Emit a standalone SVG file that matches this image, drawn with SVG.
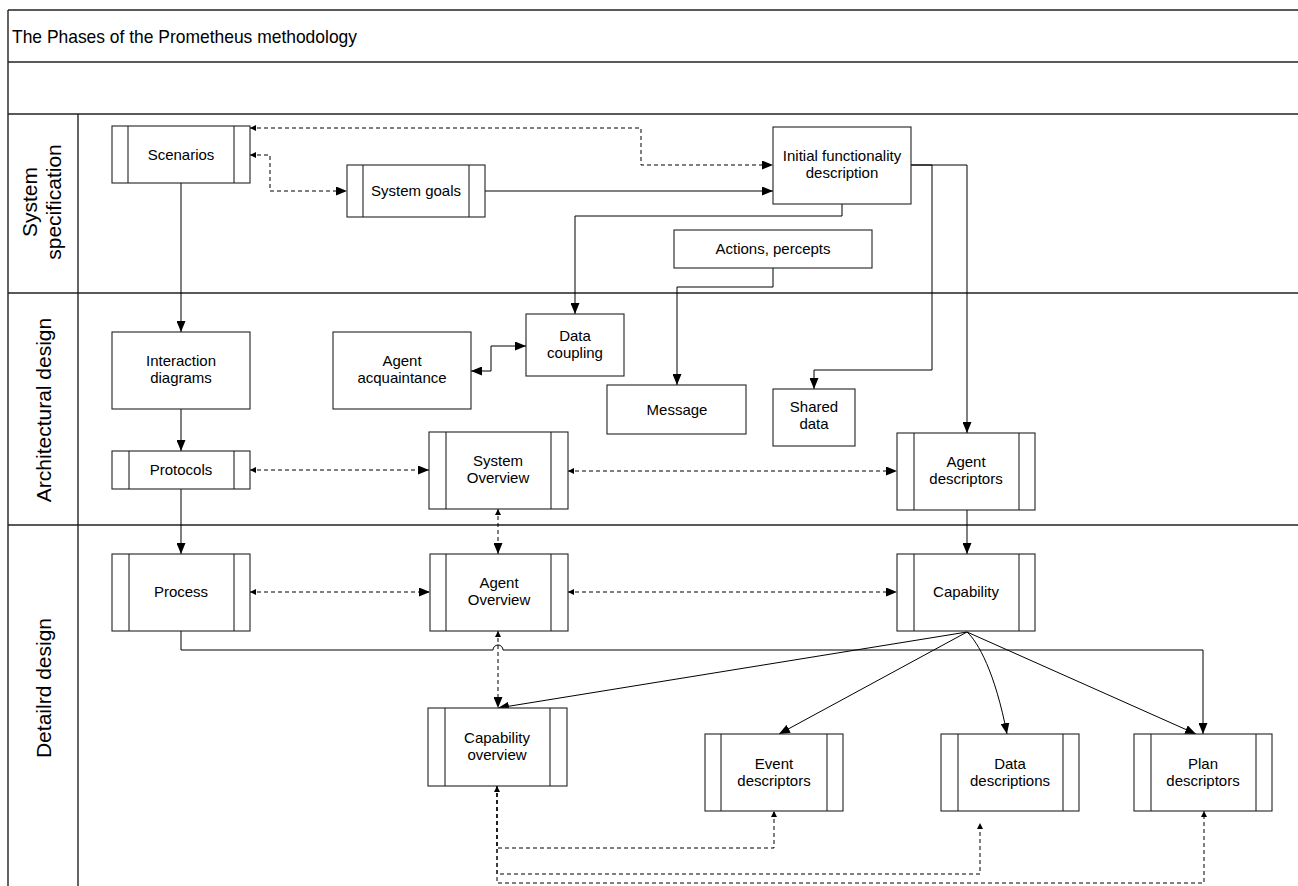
<svg xmlns="http://www.w3.org/2000/svg" width="1298" height="886" viewBox="0 0 1298 886">
<style>
.frame{stroke:#222;stroke-width:1.4;fill:none}
.node rect{fill:#fff;stroke:#222;stroke-width:1.1}
.node line{stroke:#222;stroke-width:1.1}
.node text{font-family:"Liberation Sans",Arial,sans-serif;font-size:15px;fill:#000;text-anchor:middle}
.lane{font-family:"Liberation Sans",Arial,sans-serif;font-size:21px;fill:#000;text-anchor:middle}
.title{font-family:"Liberation Sans",Arial,sans-serif;font-size:19px;fill:#000}
.c{fill:none;stroke:#000;stroke-width:1}
.d{fill:none;stroke:#000;stroke-width:1;stroke-dasharray:4 3}
</style>
<defs>
<marker id="big" viewBox="0 0 11 9" refX="11" refY="4.5" markerWidth="11" markerHeight="9" orient="auto-start-reverse" markerUnits="userSpaceOnUse"><path d="M0,0 L11,4.5 L0,9z" fill="#000"/></marker>
<marker id="small" viewBox="0 0 6 6" refX="6" refY="3" markerWidth="6" markerHeight="6" orient="auto-start-reverse" markerUnits="userSpaceOnUse"><path d="M0,0 L6,3 L0,6z" fill="#000"/></marker>
</defs>
<rect x="0" y="0" width="1298" height="886" fill="#fff"/>
<g id="frame">
<line class="frame" x1="8" y1="10" x2="1298" y2="10"/>
<line class="frame" x1="8" y1="62" x2="1298" y2="62"/>
<line class="frame" x1="8" y1="114" x2="1298" y2="114"/>
<line class="frame" x1="8" y1="293" x2="1298" y2="293"/>
<line class="frame" x1="8" y1="525" x2="1298" y2="525"/>
<line class="frame" x1="8" y1="10" x2="8" y2="886"/>
<line class="frame" x1="78" y1="114" x2="78" y2="886"/>
<text class="title" x="12" y="43" textLength="345" lengthAdjust="spacingAndGlyphs">The Phases of the Prometheus methodology</text>
<text class="lane" transform="translate(37,202) rotate(-90)">System</text>
<text class="lane" transform="translate(61,202) rotate(-90)">specification</text>
<text class="lane" transform="translate(51,410) rotate(-90)">Architectural design</text>
<text class="lane" transform="translate(51,688) rotate(-90)">Detailrd design</text>
</g>
<g id="connectors">
<path class="c" d="M181,183 V332" marker-end="url(#big)"/>
<path class="c" d="M181,409 V451" marker-end="url(#big)"/>
<path class="c" d="M181,489 V554" marker-end="url(#big)"/>
<path class="c" d="M485,191 H773" marker-end="url(#big)"/>
<path class="c" d="M842,204 V216 H575 V314" marker-end="url(#big)"/>
<path class="c" d="M773,268 V287 H677 V385" marker-end="url(#big)"/>
<path class="c" d="M911,165 H932 V370 H814 V389" marker-end="url(#big)"/>
<path class="c" d="M911,165 H967 V433" marker-end="url(#big)"/>
<path class="c" d="M967,510 V554" marker-end="url(#big)"/>
<path class="c" d="M471,371 H491 V346 H526" marker-start="url(#big)" marker-end="url(#big)"/>
<path class="c" d="M181,631 V650 H493 A5,5 0 0 1 503,650 H1203 V734" marker-end="url(#big)"/>
<path class="c" d="M967,632 L498,708" marker-end="url(#big)"/>
<path class="c" d="M967,632 L779,734" marker-end="url(#big)"/>
<path class="c" d="M967,632 C978,642 995,672 1007,734" marker-end="url(#big)"/>
<path class="c" d="M967,632 L1196,734" marker-end="url(#big)"/>
<path class="d" d="M250,128 H641 V165 H773" marker-start="url(#small)" marker-end="url(#big)"/>
<path class="d" d="M250,155 H270 V191 H347" marker-start="url(#small)" marker-end="url(#big)"/>
<path class="d" d="M250,470 H429" marker-start="url(#small)" marker-end="url(#big)"/>
<path class="d" d="M568,471 H897" marker-start="url(#small)" marker-end="url(#big)"/>
<path class="d" d="M498,509 V554" marker-start="url(#small)" marker-end="url(#big)"/>
<path class="d" d="M250,592 H430" marker-start="url(#small)" marker-end="url(#big)"/>
<path class="d" d="M568,592 H897" marker-start="url(#small)" marker-end="url(#big)"/>
<path class="d" d="M498,631 V708" marker-start="url(#small)" marker-end="url(#big)"/>
<path class="d" d="M497,786 V848 H774 V811" marker-start="url(#small)" marker-end="url(#small)"/>
<path class="d" d="M497,786 V874 H980 V823" marker-end="url(#small)"/>
<path class="d" d="M497,786 V883 H1204 V811" marker-end="url(#small)"/>
</g>
<g id="scenarios" class="node"><rect x="112" y="126" width="138" height="57"/><line x1="128" y1="126" x2="128" y2="183"/><line x1="234" y1="126" x2="234" y2="183"/><text x="181" y="160">Scenarios</text></g>
<g id="system-goals" class="node"><rect x="347" y="165" width="138" height="52"/><line x1="363" y1="165" x2="363" y2="217"/><line x1="469" y1="165" x2="469" y2="217"/><text x="416" y="196">System goals</text></g>
<g id="initial-functionality" class="node"><rect x="773" y="127" width="138" height="77"/><text x="842" y="161">Initial functionality</text><text x="842" y="178">description</text></g>
<g id="actions-percepts" class="node"><rect x="674" y="230" width="198" height="38"/><text x="773" y="254">Actions, percepts</text></g>
<g id="interaction-diagrams" class="node"><rect x="112" y="332" width="138" height="77"/><text x="181" y="366">Interaction</text><text x="181" y="383">diagrams</text></g>
<g id="agent-acquaintance" class="node"><rect x="333" y="332" width="138" height="77"/><text x="402" y="366">Agent</text><text x="402" y="383">acquaintance</text></g>
<g id="data-coupling" class="node"><rect x="526" y="314" width="98" height="62"/><text x="575" y="341">Data</text><text x="575" y="358">coupling</text></g>
<g id="message" class="node"><rect x="607" y="385" width="139" height="49"/><text x="677" y="415">Message</text></g>
<g id="shared-data" class="node"><rect x="773" y="389" width="82" height="57"/><text x="814" y="412">Shared</text><text x="814" y="429">data</text></g>
<g id="protocols" class="node"><rect x="112" y="451" width="138" height="38"/><line x1="129" y1="451" x2="129" y2="489"/><line x1="234" y1="451" x2="234" y2="489"/><text x="181" y="475">Protocols</text></g>
<g id="system-overview" class="node"><rect x="429" y="432" width="139" height="77"/><line x1="446" y1="432" x2="446" y2="509"/><line x1="551" y1="432" x2="551" y2="509"/><text x="498" y="466">System</text><text x="498" y="483">Overview</text></g>
<g id="agent-descriptors" class="node"><rect x="897" y="433" width="138" height="77"/><line x1="914" y1="433" x2="914" y2="510"/><line x1="1019" y1="433" x2="1019" y2="510"/><text x="966" y="467">Agent</text><text x="966" y="484">descriptors</text></g>
<g id="process" class="node"><rect x="112" y="554" width="138" height="77"/><line x1="129" y1="554" x2="129" y2="631"/><line x1="234" y1="554" x2="234" y2="631"/><text x="181" y="597">Process</text></g>
<g id="agent-overview" class="node"><rect x="430" y="554" width="138" height="77"/><line x1="446" y1="554" x2="446" y2="631"/><line x1="551" y1="554" x2="551" y2="631"/><text x="499" y="588">Agent</text><text x="499" y="605">Overview</text></g>
<g id="capability" class="node"><rect x="897" y="554" width="138" height="77"/><line x1="914" y1="554" x2="914" y2="631"/><line x1="1019" y1="554" x2="1019" y2="631"/><text x="966" y="597">Capability</text></g>
<g id="capability-overview" class="node"><rect x="428" y="708" width="139" height="78"/><line x1="445" y1="708" x2="445" y2="786"/><line x1="550" y1="708" x2="550" y2="786"/><text x="497" y="743">Capability</text><text x="497" y="760">overview</text></g>
<g id="event-descriptors" class="node"><rect x="705" y="734" width="138" height="77"/><line x1="721" y1="734" x2="721" y2="811"/><line x1="827" y1="734" x2="827" y2="811"/><text x="774" y="769">Event</text><text x="774" y="786">descriptors</text></g>
<g id="data-descriptions" class="node"><rect x="941" y="734" width="138" height="77"/><line x1="958" y1="734" x2="958" y2="811"/><line x1="1063" y1="734" x2="1063" y2="811"/><text x="1010" y="769">Data</text><text x="1010" y="786">descriptions</text></g>
<g id="plan-descriptors" class="node"><rect x="1134" y="734" width="138" height="77"/><line x1="1151" y1="734" x2="1151" y2="811"/><line x1="1256" y1="734" x2="1256" y2="811"/><text x="1203" y="769">Plan</text><text x="1203" y="786">descriptors</text></g>
</svg>
